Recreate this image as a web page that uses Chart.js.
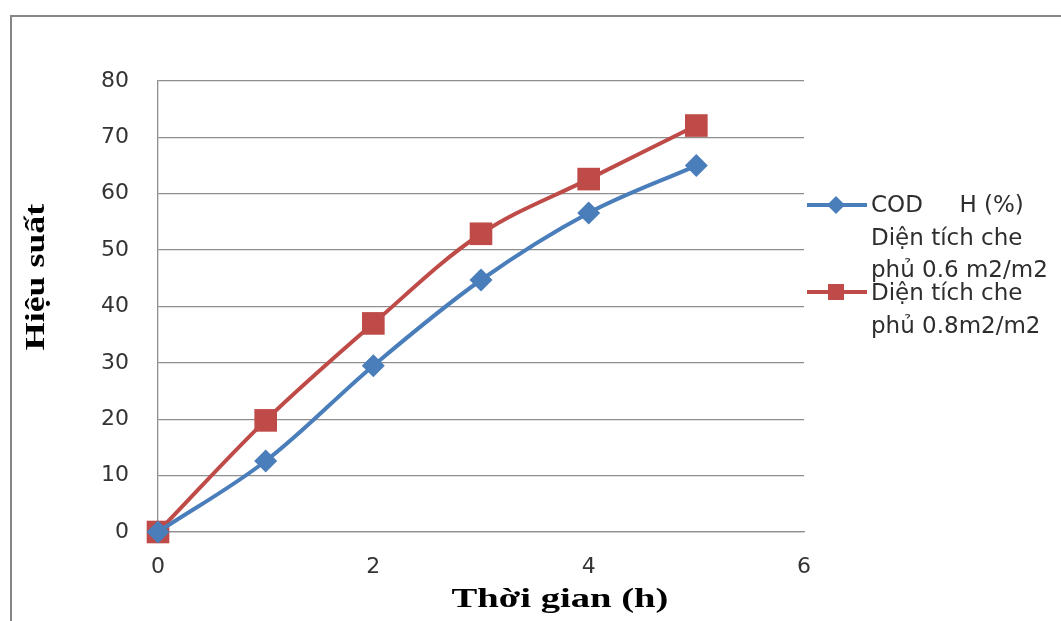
<!DOCTYPE html>
<html>
<head>
<meta charset="utf-8">
<script src="https://cdn.jsdelivr.net/npm/chart.js@4.4.1/dist/chart.umd.min.js"></script>
<style>
  html, body { margin: 0; padding: 0; background: #fff; }
  #wrap { position: relative; width: 1061px; height: 621px; }
</style>
</head>
<body>
<div id="wrap"><canvas id="chart" width="1061" height="621"></canvas></div>
<script>
// thời gian (h)
const hours = [0, 1, 2, 3, 4, 5];
// hiệu suất COD (%)
const cod06 = [0, 12.6, 29.5, 44.7, 56.6, 65.0];
const cod08 = [0, 19.8, 37.0, 52.9, 62.6, 72.1];
const seriesNames = [
  ['COD     H (%)', 'Diện tích che', 'phủ 0.6 m2/m2'],
  ['Diện tích che', 'phủ 0.8m2/m2']
];
const seriesColors = ['#4a7ebb', '#be4b48'];
const xTitle = 'Thời gian (h)';
const yTitle = 'Hiệu suất';

const tickFont = { family: '"DejaVu Sans", sans-serif', size: 22 };

function toPoints(ys) {
  return hours.map((h, i) => ({ x: h, y: ys[i] }));
}

// khung ngoài, chú thích và tên trục
const extras = {
  id: 'extras',
  afterDraw(chart) {
    const ctx = chart.ctx;
    ctx.save();
    ctx.strokeStyle = '#868686';
    ctx.lineWidth = 2;
    ctx.strokeRect(11, 16, 1200, 800);

    // tên trục (chữ serif đậm, hơi giãn ngang)
    ctx.fillStyle = '#000';
    ctx.font = 'bold 28px "Liberation Serif", serif';
    ctx.textAlign = 'center';
    ctx.textBaseline = 'middle';
    ctx.save();
    ctx.translate(560, 600);
    ctx.scale(1.38, 1);
    ctx.fillText(xTitle, 0, 0);
    ctx.restore();
    ctx.save();
    ctx.translate(37, 277);
    ctx.rotate(-Math.PI / 2);
    ctx.scale(1.28, 1);
    ctx.fillText(yTitle, 0, 0);
    ctx.restore();

    // chú thích
    ctx.font = '23px "DejaVu Sans", sans-serif';
    ctx.textAlign = 'left';
    ctx.textBaseline = 'alphabetic';
    const legendY = [205, 292];
    const lineStarts = [212, 300];
    chart.data.datasets.forEach((ds, i) => {
      const y = legendY[i];
      ctx.strokeStyle = ds.borderColor;
      ctx.lineWidth = 4;
      ctx.beginPath();
      ctx.moveTo(807, y);
      ctx.lineTo(867, y);
      ctx.stroke();
      ctx.fillStyle = ds.backgroundColor;
      if (ds.pointStyle === 'rectRot') {
        ctx.beginPath();
        ctx.moveTo(836, y - 9);
        ctx.lineTo(845, y);
        ctx.lineTo(836, y + 9);
        ctx.lineTo(827, y);
        ctx.closePath();
        ctx.fill();
      } else {
        ctx.fillRect(828, y - 8, 16, 16);
      }
      ctx.fillStyle = '#2e2e2e';
      seriesNames[i].forEach((t, k) => {
        ctx.fillText(t, 871, lineStarts[i] + k * 32.5);
      });
    });
    ctx.restore();
  }
};

new Chart(document.getElementById('chart'), {
  type: 'line',
  data: {
    datasets: [
      {
        label: seriesNames[0].join(' '),
        data: toPoints(cod06),
        borderColor: seriesColors[0],
        backgroundColor: seriesColors[0],
        borderWidth: 4,
        pointStyle: 'rectRot',
        pointRadius: 11.5,
        pointBorderWidth: 0,
        tension: 0.35,
        clip: false
      },
      {
        label: seriesNames[1].join(' '),
        data: toPoints(cod08),
        borderColor: seriesColors[1],
        backgroundColor: seriesColors[1],
        borderWidth: 4,
        pointStyle: 'rect',
        pointRadius: 16,
        pointBorderWidth: 0,
        tension: 0.35,
        clip: false
      }
    ]
  },
  options: {
    responsive: false,
    animation: false,
    layout: { padding: { left: 0, right: 257, top: 81, bottom: 0 } },
    plugins: {
      legend: { display: false },
      tooltip: { enabled: false }
    },
    scales: {
      x: {
        type: 'linear',
        min: 0,
        max: 6,
        afterFit: (s) => { s.height = 89; },
        ticks: { stepSize: 2, font: tickFont, color: '#333333', padding: 22 },
        grid: { display: false, drawTicks: false },
        border: { display: true, color: '#8e8e8e', width: 1.3 }
      },
      y: {
        min: 0,
        max: 80,
        afterFit: (s) => { s.width = 158; },
        ticks: { stepSize: 10, font: tickFont, color: '#333333', padding: 29 },
        grid: { color: '#8e8e8e', lineWidth: 1.3, drawTicks: false },
        border: { display: true, color: '#8e8e8e', width: 1.3 }
      }
    }
  },
  plugins: [extras]
});
</script>
</body>
</html>
